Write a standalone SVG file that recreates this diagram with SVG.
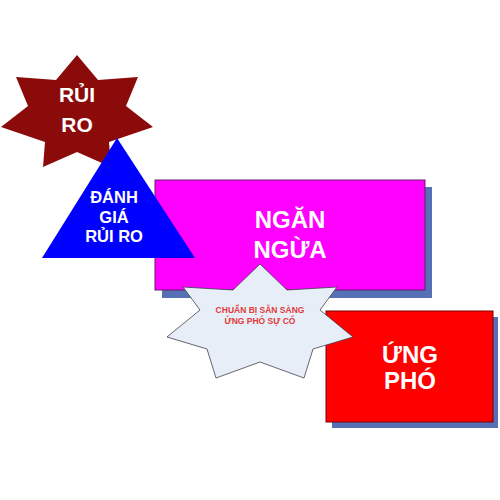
<svg xmlns="http://www.w3.org/2000/svg" width="500" height="500" viewBox="0 0 500 500">
<style>
.lbl{font-family:"Liberation Sans",Arial,sans-serif;font-weight:bold;fill:#ffffff;text-anchor:middle}
.sm{font-family:"Liberation Sans",Arial,sans-serif;font-weight:bold;fill:#e03a3a;text-anchor:middle;font-size:8.5px}
.shadow{fill:#5570b5}
</style>
<rect width="500" height="500" fill="#ffffff"/>
<g id="connectors"></g>
<g id="ngan-ngua">
<rect class="shadow" x="162" y="187" width="270" height="111"/>
<rect x="155" y="180" width="270" height="110" fill="#ff00ff" stroke="#6a1a6a" stroke-width="1"/>
<text class="lbl" x="290" y="228" font-size="24">NGĂN</text>
<text class="lbl" x="290" y="258" font-size="24">NGỪA</text>
</g>
<g id="ung-pho">
<rect class="shadow" x="332" y="317" width="166" height="111"/>
<rect x="326" y="311" width="167" height="111" fill="#ff0000" stroke="#7a0000" stroke-width="1"/>
<text class="lbl" x="410" y="363" font-size="24">ỨNG</text>
<text class="lbl" x="410" y="389" font-size="24">PHÓ</text>
</g>
<g id="rui-ro">
<polygon fill="#8b0a0a" points="77,55 98,80 138,77 126,106 153,127 109,142 111,167 77,152 43,167 45,142 1,127 28,106 16,77 56,80"/>
<text class="lbl" x="77" y="102" font-size="21">RỦI</text>
<text class="lbl" x="77" y="132" font-size="21">RO</text>
</g>
<g id="danh-gia">
<polygon fill="#0000ff" points="117,138 42,258 195,258"/>
<text class="lbl" x="114" y="203" font-size="16.5">ĐÁNH</text>
<text class="lbl" x="114" y="223" font-size="16.5">GIÁ</text>
<text class="lbl" x="114" y="242" font-size="16.5">RỦI RO</text>
</g>
<g id="chuan-bi">
<polygon fill="#e8eef8" stroke="#404050" stroke-width="0.8" points="260,264 287,290 337,287 320,310 353,337 313,349 304,378 260,362 216,378 207,349 167,337 200,310 183,287 233,290"/>
<text class="sm" x="260" y="313">CHUẨN BỊ SẴN SÀNG</text>
<text class="sm" x="260" y="324">ỨNG PHÓ SỰ CỐ</text>
</g>
</svg>
